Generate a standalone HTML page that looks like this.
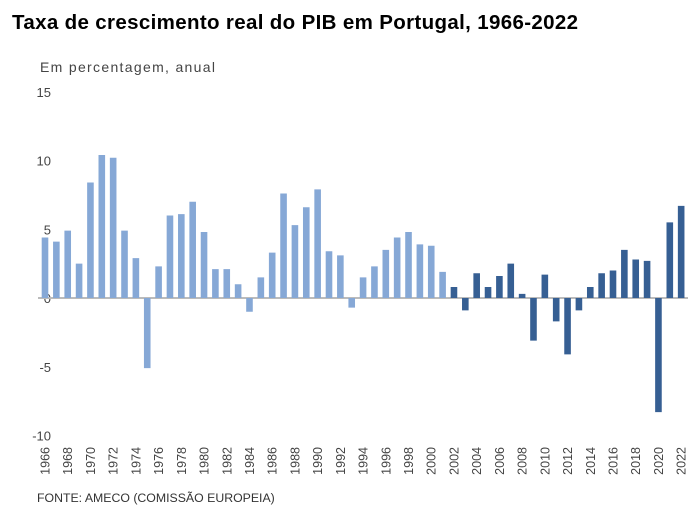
<!DOCTYPE html>
<html><head><meta charset="utf-8"><style>
body{margin:0;background:#fff;font-family:"Liberation Sans",sans-serif;}
svg text{font-family:"Liberation Sans",sans-serif;}
</style></head><body>
<svg id="c" width="700" height="511">
<text x="12" y="29" font-size="20.5" font-weight="bold" fill="#000" textLength="566">Taxa de crescimento real do PIB em Portugal, 1966-2022</text>
<text x="40" y="72" font-size="14" fill="#444" textLength="175">Em percentagem, anual</text>
<text x="37" y="502" font-size="12.3" fill="#333">FONTE: AMECO (COMISSÃO EUROPEIA)</text>
<g id="ya"></g><g id="bars"></g><g id="xa"></g>
</svg>
<script>
const years=[1966,1967,1968,1969,1970,1971,1972,1973,1974,1975,1976,1977,1978,1979,1980,1981,1982,1983,1984,1985,1986,1987,1988,1989,1990,1991,1992,1993,1994,1995,1996,1997,1998,1999,2000,2001,2002,2003,2004,2005,2006,2007,2008,2009,2010,2011,2012,2013,2014,2015,2016,2017,2018,2019,2020,2021,2022];
const growth=[4.4,4.1,4.9,2.5,8.4,10.4,10.2,4.9,2.9,-5.1,2.3,6.0,6.1,7.0,4.8,2.1,2.1,1.0,-1.0,1.5,3.3,7.6,5.3,6.6,7.9,3.4,3.1,-0.7,1.5,2.3,3.5,4.4,4.8,3.9,3.8,1.9,0.8,-0.9,1.8,0.8,1.6,2.5,0.3,-3.1,1.7,-1.7,-4.1,-0.9,0.8,1.8,2.0,3.5,2.8,2.7,-8.3,5.5,6.7];
const yTicks=[15,10,5,0,-5,-10];
const NS="http://www.w3.org/2000/svg";
const y=v=>298-v*13.75;
const x=i=>45+i*11.36;
function mk(t,a,p){const e=document.createElementNS(NS,t);for(const k in a)e.setAttribute(k,a[k]);p.appendChild(e);return e;}
const ya=document.getElementById('ya'),bars=document.getElementById('bars'),xa=document.getElementById('xa');
yTicks.forEach(v=>{const t=mk('text',{x:51,y:y(v)+5,'text-anchor':'end','font-size':13,fill:'#444'},ya);t.textContent=v;

});
const base=mk('line',{x1:38,x2:688,y1:y(0),y2:y(0),stroke:'#bbb','stroke-width':2},ya);


growth.forEach((v,i)=>{const top=Math.min(y(v),y(0)),h=Math.abs(y(v)-y(0));
const r=mk('rect',{x:x(i)-3.3,y:top,width:6.6,height:h,fill:years[i]>=2002?'#365f93':'#86a8d6'},bars);


if(i%2===0){const t=mk('text',{transform:`translate(${x(i)+4.5},447) rotate(-90)`,'text-anchor':'end','font-size':12.5,fill:'#444'},xa);t.textContent=years[i];

}
});
</script>
</body></html>
